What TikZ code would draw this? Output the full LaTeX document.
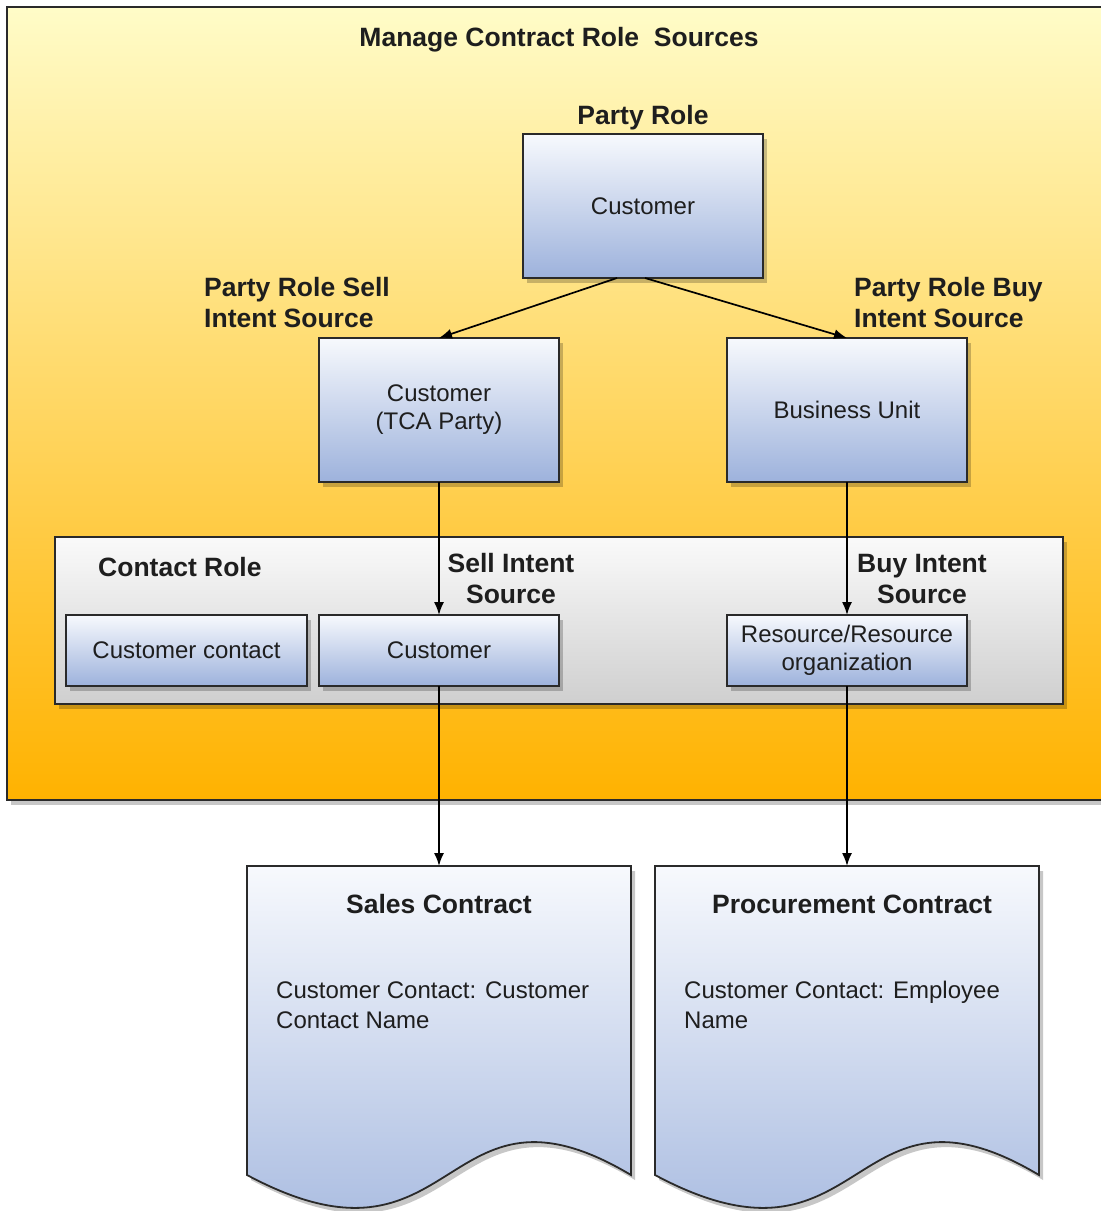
\documentclass[tikz,border=0pt]{standalone}
\usepackage{fontspec}
\setmainfont{Liberation Sans}
\usetikzlibrary{shadows,arrows.meta}
\definecolor{outerTop}{HTML}{FFFCC8}
\definecolor{outerBot}{HTML}{FFB200}
\definecolor{blueTop}{HTML}{F7F9FD}
\definecolor{blueBot}{HTML}{9DB2DC}
\definecolor{grayTop}{HTML}{FAFAFA}
\definecolor{grayBot}{HTML}{CFCFCF}
\definecolor{edge}{HTML}{2A2A2A}
\definecolor{txt}{HTML}{1E1E1E}
\tikzset{
  shd/.style={drop shadow={shadow xshift=4pt,shadow yshift=-5pt,fill=black,opacity=0.22}},
  outerbox/.style={draw=edge,line width=2pt,top color=outerTop,bottom color=outerBot,shd},
  panel/.style={draw=edge,line width=1.8pt,top color=grayTop,bottom color=grayBot,shd},
  bluebox/.style={draw=edge,line width=1.8pt,top color=blueTop,bottom color=blueBot,shd,
     inner sep=0pt,outer sep=0pt,minimum width=240pt,align=center,text=txt,
     font=\fontsize{24}{28}\selectfont},
  bigbox/.style={bluebox,minimum height=144pt},
  smallbox/.style={bluebox,minimum height=71pt},
  doc/.style={draw=edge,line width=1.8pt,top color=blueTop,bottom color=blueBot,shd},
  lbl/.style={font=\fontsize{26.5}{31}\selectfont\bfseries,text=txt,inner sep=0pt},
  body/.style={font=\fontsize{24}{30}\selectfont,text=txt,inner sep=0pt,align=left},
  conn/.style={draw=black,line width=1.7pt,-{Latex[length=13pt,width=10pt]}},
}
\begin{document}
\begin{tikzpicture}[x=1pt,y=-1pt]
\useasboundingbox (0,0) rectangle (1101,1211);
\clip (0,0) rectangle (1101,1211);
% outer container
\path[outerbox] (7,7) rectangle (1115,800);
\node[lbl] (title) at (559,40) {Manage Contract Role\ \ Sources};
% contact role panel
\path[panel] (55,537) rectangle (1063,704);
% labels
\node[lbl] (prl) at (643,118) {Party Role};
\node[lbl,anchor=west,align=left] (sell) at (204,303) {Party Role Sell\\Intent Source};
\node[lbl,anchor=west,align=left] (buy) at (854,303) {Party Role Buy\\Intent Source};
\node[lbl,anchor=west] (crl) at (98,567) {Contact Role};
\node[lbl,align=center] (sis) at (511,579) {Sell Intent\\Source};
\node[lbl,align=center] (bis) at (922,579) {Buy Intent\\Source};
% boxes
\node[bigbox] (top) at (643,206) {Customer};
\node[bigbox] (tca) at (439,410) {Customer\\(TCA Party)};
\node[bigbox] (bu) at (847,410) {Business Unit};
\node[smallbox,minimum width=241pt] (cc) at (186.5,650.5) {Customer contact};
\node[smallbox] (cust) at (439,650.5) {Customer};
\node[smallbox] (res) at (847,650.5) {Resource/Resource\\organization};
% documents
\path[doc] (247,866) -- (631,866) -- (631,1175) .. controls (440,1061) and (460,1289) .. (247,1175) -- cycle;
\path[doc] (655,866) -- (1039,866) -- (1039,1175) .. controls (848,1061) and (868,1289) .. (655,1175) -- cycle;
\coordinate (sales) at (439,866);
\coordinate (proc) at (847,866);
\node[lbl] (st) at (439,904) {Sales Contract};
\node[lbl] (pt) at (852,904) {Procurement Contract};
\node[body,anchor=west] (sb) at (276,1005) {Customer Contact: Customer\\Contact Name};
\node[body,anchor=west] (pb) at (684,1005) {Customer Contact: Employee\\Name};
% connectors
\draw[conn] ([xshift=-26pt]top.south) -- (tca.north);
\draw[conn] ([xshift=2pt]top.south) -- (bu.north);
\draw[conn] (tca.south) -- (cust.north);
\draw[conn] (bu.south) -- (res.north);
\draw[conn] (cust.south) -- (sales);
\draw[conn] (res.south) -- (proc);
\end{tikzpicture}
\end{document}
